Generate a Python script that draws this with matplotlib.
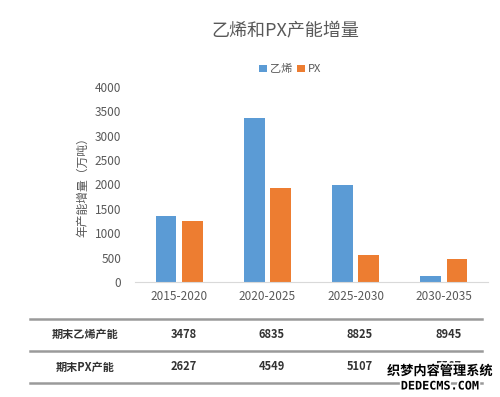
import matplotlib.pyplot as plt
import matplotlib.transforms as mtransforms
import matplotlib.patheffects as pe
import numpy as np

plt.rcParams['font.family'] = ['Noto Sans CJK SC', 'DejaVu Sans']

periods = ['2015-2020', '2020-2025', '2025-2030', '2030-2035']
ethylene_inc = [1360, 3357, 1990, 120]
px_inc = [1245, 1922, 558, 460]
ethylene_end = ['3478', '6835', '8825', '8945']
px_end = ['2627', '4549', '5107', '5567']

blue = '#5B9BD5'
orange = '#ED7D31'
grey = '#595959'

fig = plt.figure(figsize=(5, 3.97), dpi=100)
ax = fig.add_axes([0.27, 0.29, 0.706, 0.491])

x = np.arange(len(periods))
w = 0.235
gap = 0.03
ax.bar(x - w / 2 - gap, ethylene_inc, w, color=blue, label='乙烯')
ax.bar(x + w / 2 + gap, px_inc, w, color=orange, label='PX')

ax.set_xlim(-0.5, 3.5)
ax.set_ylim(0, 4000)
ax.set_yticks(range(0, 4001, 500))
ax.set_xticks(x)
ax.set_xticklabels(periods)
ax.tick_params(length=0, labelsize=8.5, colors=grey, pad=6)
ax.tick_params(axis='y', pad=10)
for s in ['top', 'right', 'left']:
    ax.spines[s].set_visible(False)
ax.spines['bottom'].set_color('#D9D9D9')
ax.set_ylabel('年产能增量（万吨）', fontsize=8.5, color=grey, labelpad=4)

fig.text(0.57, 0.92, '乙烯和PX产能增量', ha='center', va='center',
         fontsize=13, color=grey)
ax.legend(loc='center', bbox_to_anchor=(0.44, 1.09), ncol=2, frameon=False,
          fontsize=8, handlelength=0.7, handleheight=0.7, handletextpad=0.3,
          columnspacing=0.4, labelcolor=grey)

# table below the chart
trans = mtransforms.blended_transform_factory(ax.transData, fig.transFigure)
for yy in [1 - 319 / 397, 1 - 351 / 397, 1 - 383 / 397]:
    fig.add_artist(plt.Line2D([30 / 500, 482 / 500], [yy, yy],
                              color='#9A9A9A', lw=1.8))
row_y = [1 - 334 / 397, 1 - 367 / 397]
fig.text(85 / 500, row_y[0], '期末乙烯产能', ha='center', va='center',
         fontsize=8, color='#333333', fontweight='bold')
fig.text(85 / 500, row_y[1], '期末PX产能', ha='center', va='center',
         fontsize=8, color='#333333', fontweight='bold')
for i in range(len(periods)):
    ax.text(x[i] + 0.05, row_y[0], ethylene_end[i], transform=trans,
            ha='center', va='center', fontsize=8, color='#333333',
            fontweight='bold')
    ax.text(x[i] + 0.05, row_y[1], px_end[i], transform=trans,
            ha='center', va='center', fontsize=8, color='#333333',
            fontweight='bold')

# watermark
stroke = [pe.withStroke(linewidth=2.5, foreground='white')]
fig.text(440 / 500, 1 - 371 / 397, '织梦内容管理系统', ha='center', va='center',
         fontsize=9.5, fontweight='bold', color='black', path_effects=stroke)
fig.text(440 / 500, 1 - 386 / 397, 'DEDECMS.COM', ha='center', va='center',
         fontsize=8.5, fontweight='bold', color='black', path_effects=stroke,
         family=['DejaVu Sans Mono'])

fig.savefig('out.png', dpi=100)
